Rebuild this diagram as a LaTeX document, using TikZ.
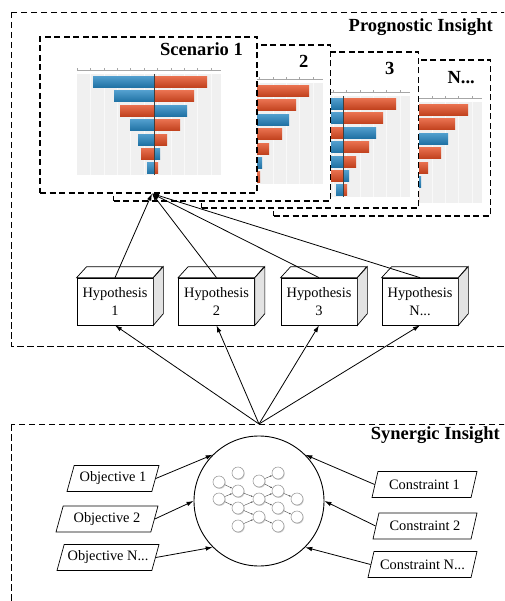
\documentclass[tikz,border=0pt]{standalone}
\usepackage{fontspec}
\setmainfont{Liberation Serif}
\usetikzlibrary{arrows.meta,shapes.geometric,shadows}
\definecolor{barblue}{HTML}{2585C0}
\definecolor{barorange}{HTML}{E24C22}
\tikzset{
	insight/.style={draw, dash pattern=on 6.5pt off 3.5pt, line width=0.8pt},
	scenbox/.style={draw, fill=white, dash pattern=on 6pt off 3.5pt, line width=1.1pt, minimum width=217pt, minimum height=156pt, inner sep=0pt},
	title/.style={font=\fontsize{18.5}{20}\selectfont\bfseries, anchor=base east, inner sep=0pt},
	hypbox/.style={draw, fill=white, line width=0.7pt, minimum width=76pt, minimum height=47pt, align=center, font=\fontsize{14.4}{17.5}\selectfont},
	para/.style={draw, fill=white, trapezium, trapezium left angle=70, trapezium right angle=110, trapezium stretches body, minimum height=26pt, line width=0.7pt, inner xsep=2pt, font=\fontsize{14.4}{17}\selectfont},
	link/.style={line width=0.8pt, -{Latex[length=7pt,width=4.5pt]}},
	ball/.style={circle, draw=gray!75, fill=white, line width=0.6pt, minimum size=12pt, inner sep=0pt, drop shadow={shadow xshift=0.7pt, shadow yshift=-0.9pt, opacity=0.4}},
	nlink/.style={gray!60!black, line width=0.4pt, -{Latex[length=2pt,width=1.6pt]}}
}
% tornado chart, centre axis x and top axis y
\def\tornado(#1,#2){
	\begin{scope}[shift={(#1,#2)}]
		\fill[gray!12] (-77,4) rectangle (67,105);
		\foreach \g in {-63.6,-50.2,...,67} \draw[gray!5, line width=0.6pt] (\g,4) -- (\g,105);
		\draw[gray!70, line width=0.6pt] (-77,0) -- (67,0);
		\foreach \g in {-77,-63.6,...,67} \draw[gray!70, line width=0.4pt] (\g,0) -- (\g,-1.5);
		\foreach \l/\lc/\r/\rc [count=\k from 0] in {61/barblue/53/barorange, 40/barblue/40/barorange, 34/barorange/33/barblue, 24/barblue/26/barorange, 16/barblue/13/barorange, 13/barorange/6/barblue, 7/barblue/4/barorange} {
			\shade[top color=\lc!80!white, bottom color=\lc!85!black] (-\l,{6.5+14.4*\k}) rectangle (0,{17.5+14.4*\k});
			\shade[top color=\rc!80!white, bottom color=\rc!85!black] (0,{6.5+14.4*\k}) rectangle (\r,{17.5+14.4*\k});
		}
		\draw[gray!50!black, line width=0.5pt] (0,4) -- (0,105);
	\end{scope}}

\begin{document}
\begin{tikzpicture}[x=1pt,y=-1pt]
			%%%%% START %%%%%
			\path[use as bounding box, clip] (0,0) rectangle (504,601);
			
			\draw[insight] (11,12) rectangle (515,346);
			\draw[insight] (11,424) rectangle (515,612);
			\node[title] (proglabel) at (493,31.5) {Prognostic Insight};
			\node[title] (synlabel) at (500,439) {Synergic Insight};
			
			% scenario stack, back to front
			\node[scenbox] (sn) at (382,138) {};
			\tornado(415,98)
			\node[title] (snlabel) at (475,84) {N...};
			
			\node[scenbox] (s3) at (310,130) {};
			\tornado(343,92)
			\node[title] (s3label) at (394.5,75) {3};
			
			\node[scenbox] (s2) at (222,123) {};
			\tornado(256,79)
			\node[title] (s2label) at (308.5,68) {2};
			
			\node[scenbox] (s1) at (148.5,115) {};
			\tornado(154,70)
			\node[title] (s1label) at (243,56) {Scenario 1};
			
			% hypotheses
			\node[hypbox] (h1) at (115,301.5) {Hypothesis\\1};
			\node[hypbox] (h2) at (216.5,301.5) {Hypothesis\\2};
			\node[hypbox] (h3) at (319,301.5) {Hypothesis\\3};
			\node[hypbox] (h4) at (420,301.5) {Hypothesis\\N...};
			\foreach \h in {h1,h2,h3,h4} {
				\draw[fill=white, line width=0.7pt] (\h.north west) -- ++(10,-11) -- ++(76,0) -- (\h.north east) -- cycle;
				\draw[fill=gray!22, line width=0.7pt] (\h.north east) -- ++(10,-11) -- ++(0,47) -- (\h.south east) -- cycle;
				\draw[link] (\h.north) -- ([xshift=3.5pt]s1.south);
			}
			
			% core with network
			\node[draw, circle, line width=0.9pt, minimum size=130pt] (core) at (259,501) {};
			\foreach \n/\x/\y in {e1/238/473, e2/219/482, e3/238/491, e4/259/481, e5/278/473, e6/278/491, e7/219/499, e8/259/499, e9/297/499, e10/238/508, e11/278/508, e12/259/517, e13/297/517, e14/238/526, e15/278/526}
				\node[ball] (\n) at (\x,\y) {};
			\foreach \u/\v in {e2/e3, e7/e3, e7/e10, e3/e8, e10/e8, e4/e5, e4/e6, e8/e6, e8/e11, e6/e9, e11/e13, e10/e12, e12/e15, e14/e12}
				\draw[nlink] (\u) -- (\v);
			
			\coordinate (hub) at (259,424);
			\foreach \h in {h1,h2,h3,h4}
				\draw[link] (hub) -- (\h.south);
			
			% objectives and constraints
			\node[para, minimum width=92pt] (obj1) at (113,478.5) {Objective 1};
			\node[para, minimum width=102pt] (obj2) at (107,519) {Objective 2};
			\node[para, minimum width=102pt] (objn) at (108,557.5) {Objective N...};
			\node[para, minimum width=105pt] (con1) at (424.5,484.5) {Constraint 1};
			\node[para, minimum width=104pt] (con2) at (425,526) {Constraint 2};
			\node[para, minimum width=109pt] (conn) at (422.5,564.5) {Constraint N...};
			
			\draw[link] (obj1.east) -- (core.135);
			\draw[link] (obj2.east) -- (core.180);
			\draw[link] (objn.east) -- (core.225);
			\draw[link] (con1.west) -- (core.45);
			\draw[link] (con2.west) -- (core.0);
			\draw[link] (conn.west) -- (core.-45);
			%%%%% END %%%%%
\end{tikzpicture}
\end{document}
